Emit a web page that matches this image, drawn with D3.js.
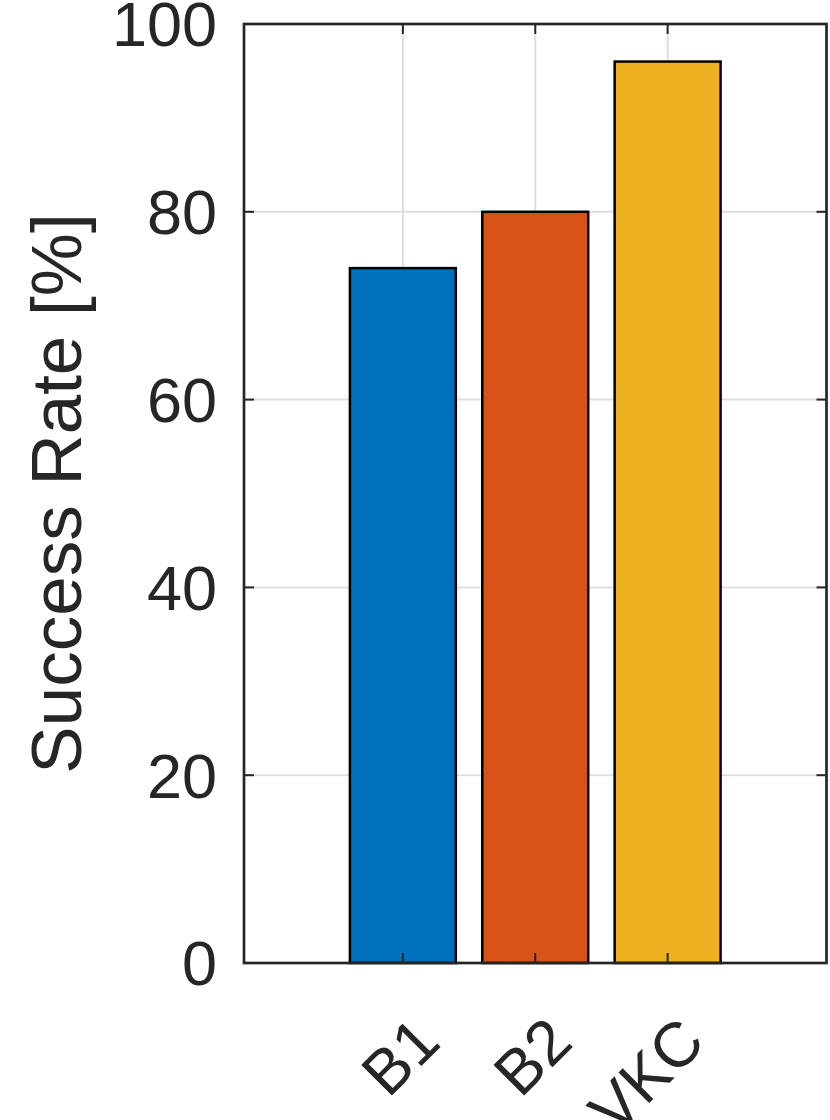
<!DOCTYPE html>
<html><head><meta charset="utf-8">
<script src="https://cdn.jsdelivr.net/npm/d3@7"></script>
<style>body{margin:0;background:#fff}svg{display:block}</style>
</head><body>
<svg id="c" width="830" height="1120"></svg>
<script>
const categories = ["B1", "B2", "VKC"];
const values = [74, 80, 96];
const colors = ["#0072BD", "#D95319", "#EDB120"];
const yTicks = [0, 20, 40, 60, 80, 100];
const yLabel = "Success Rate [%]";

const svg = d3.select("#c");
const L = 244, R = 826.5, T = 24, B = 963;
const x = d3.scaleLinear().domain([-0.2, 4.2]).range([L, R]);
const y = d3.scaleLinear().domain([0, 100]).range([B, T]);
const pos = categories.map((c, i) => i + 1);
const txt = "#262626";
const font = "'Liberation Sans', Arial, Helvetica, sans-serif";

// grid
const g = svg.append("g");
g.selectAll(".gy").data(yTicks).join("line")
  .attr("x1", L).attr("x2", R).attr("y1", d => y(d)).attr("y2", d => y(d))
  .attr("stroke", "#dfdfdf").attr("stroke-width", 2);
g.selectAll(".gx").data(pos).join("line")
  .attr("x1", d => x(d)).attr("x2", d => x(d)).attr("y1", T).attr("y2", B)
  .attr("stroke", "#dfdfdf").attr("stroke-width", 2);

// bars
const bw = x(0.8) - x(0);
svg.selectAll(".bar").data(values).join("rect")
  .attr("x", (d, i) => x(pos[i]) - bw / 2)
  .attr("width", bw)
  .attr("y", d => y(d))
  .attr("height", d => B - y(d))
  .attr("fill", (d, i) => colors[i])
  .attr("stroke", "#000").attr("stroke-width", 2.5);

// ticks (inward, all four sides)
const tl = 10;
const tk = svg.append("g").attr("stroke", txt).attr("stroke-width", 2);
tk.selectAll(".tb").data(pos).join("line")
  .attr("x1", d => x(d)).attr("x2", d => x(d)).attr("y1", B).attr("y2", B - tl);
tk.selectAll(".tt").data(pos).join("line")
  .attr("x1", d => x(d)).attr("x2", d => x(d)).attr("y1", T).attr("y2", T + tl);
tk.selectAll(".tl").data(yTicks).join("line")
  .attr("x1", L).attr("x2", L + tl).attr("y1", d => y(d)).attr("y2", d => y(d));
tk.selectAll(".tr").data(yTicks).join("line")
  .attr("x1", R).attr("x2", R - tl).attr("y1", d => y(d)).attr("y2", d => y(d));

// box
svg.append("rect").attr("x", L).attr("y", T).attr("width", R - L).attr("height", B - T)
  .attr("fill", "none").attr("stroke", txt).attr("stroke-width", 2.7);

// y tick labels
svg.selectAll(".yl").data(yTicks).join("text")
  .attr("x", 217).attr("y", d => y(d)).attr("dy", "0.355em")
  .attr("text-anchor", "end").attr("font-family", font).attr("font-size", 63)
  .attr("fill", txt).text(d => d);

// x tick labels rotated
svg.selectAll(".xl").data(categories).join("text")
  .attr("transform", (d, i) => `translate(${x(pos[i]) + 24},1029) rotate(-45)`)
  .attr("dy", "0.355em")
  .attr("text-anchor", "end").attr("font-family", font).attr("font-size", 63)
  .attr("fill", txt).text(d => d);

// y label
svg.append("text")
  .attr("transform", `translate(81,${(T + B) / 2}) rotate(-90)`)
  .attr("text-anchor", "middle").attr("font-family", font).attr("font-size", 71)
  .attr("fill", txt).text(yLabel);
</script>
</body></html>
